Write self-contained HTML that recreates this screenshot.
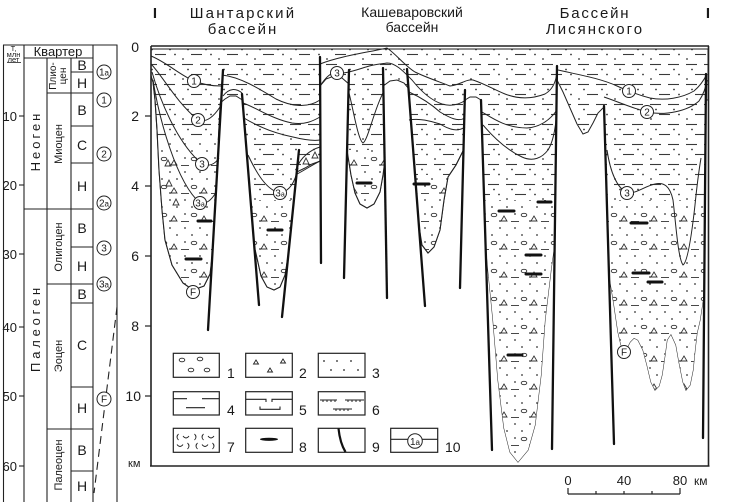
<!DOCTYPE html>
<html><head><meta charset="utf-8"><style>
html,body{margin:0;padding:0;background:#fff;}
svg{display:block;}
text{font-family:"Liberation Sans","DejaVu Sans",sans-serif;fill:#1a1a1a;}
</style></head><body>
<svg width="729" height="502" viewBox="0 0 729 502" xmlns="http://www.w3.org/2000/svg">
<defs>
<pattern id="pt" width="36" height="20" patternUnits="userSpaceOnUse">
  <g stroke="#3a3a3a" stroke-width="1.1">
   <line x1="2" y1="4.5" x2="13" y2="4.5"/>
   <line x1="20" y1="4.5" x2="31" y2="4.5"/>
   <line x1="11" y1="14.5" x2="22" y2="14.5"/>
  </g>
  <g fill="#333">
   <circle cx="8" cy="9.5" r="0.9"/>
   <circle cx="26" cy="9.5" r="0.9"/>
   <circle cx="31" cy="14.5" r="0.9"/>
   <circle cx="3" cy="19" r="0.9"/>
  </g>
</pattern>
<pattern id="pb" width="30" height="28" patternUnits="userSpaceOnUse">
  <g fill="#333">
   <circle cx="5" cy="4" r="0.9"/><circle cx="20" cy="4" r="0.9"/>
   <circle cx="12" cy="11" r="0.9"/><circle cx="27" cy="11" r="0.9"/>
   <circle cx="5" cy="18" r="0.9"/><circle cx="20" cy="25" r="0.9"/>
  </g>
  <g stroke="#333" stroke-width="0.9" fill="none">
   <ellipse cx="14" cy="19" rx="2.8" ry="1.7"/>
   <path d="M24,20 L27,25 L21,25 Z"/>
   <line x1="1" y1="25.5" x2="9" y2="25.5"/>
  </g>
</pattern>
<clipPath id="cp"><path id="Pshape" d="M151,49 L708,49 L708,100 L705.8,100 L704,290 L703,300 L700,320 L697,333 L695,350 L693,370 L690,385 L686,390 L683,382 L679,362 L676,345 L671,334 L667,340 L665,355 L662,375 L659,386 L655,390 L651,382 L647,365 L643,350 L638,340 L634,338 L630,342 L626,350 L621,345 L618,332 L614,305 L610,280 L604,107 L598,113 L593,123 L588,132 L583,134 L577,124 L570,108 L563,92 L557,80 L555,240 L551,270 L545,320 L541,375 L535,425 L528,450 L518,462 L510,452 L504,428 L498,380 L493,320 L488,270 L485.4,240 L481,100 L476,97 L470,97 L465,100 L463.5,150 L456,165 L448,177 L444,200 L440,230 L434,247 L428,253 L422,245 L418.8,225 L408.2,88 L404,83 L397,80 L390,81 L383.2,86 L385,160 L383,175 L380,192 L374,204 L367,208 L360,204 L355,193 L351,175 L347,150 L348.9,84 L342,78 L334,76 L326,79 L320,86 L320.5,161 L312,164 L305,168 L296.8,172 L288.3,255 L285,275 L280,287 L274,290 L267,287 L261,276 L257,258 L255.2,250 L242.4,100 L236,96 L230,96 L225,99 L220.2,103 L212,258 L210,274 L204,286 L193,290 L183,283 L172,265 L165,240 L162,210 L159,170 L157,130 L155,100 L153,82 L151,76 Z"/></clipPath>
</defs>

<!-- patterned region -->
<path d="M151,49 L708,49 L708,100 L705.8,100 L704,290 L703,300 L700,320 L697,333 L695,350 L693,370 L690,385 L686,390 L683,382 L679,362 L676,345 L671,334 L667,340 L665,355 L662,375 L659,386 L655,390 L651,382 L647,365 L643,350 L638,340 L634,338 L630,342 L626,350 L621,345 L618,332 L614,305 L610,280 L604,107 L598,113 L593,123 L588,132 L583,134 L577,124 L570,108 L563,92 L557,80 L555,240 L551,270 L545,320 L541,375 L535,425 L528,450 L518,462 L510,452 L504,428 L498,380 L493,320 L488,270 L485.4,240 L481,100 L476,97 L470,97 L465,100 L463.5,150 L456,165 L448,177 L444,200 L440,230 L434,247 L428,253 L422,245 L418.8,225 L408.2,88 L404,83 L397,80 L390,81 L383.2,86 L385,160 L383,175 L380,192 L374,204 L367,208 L360,204 L355,193 L351,175 L347,150 L348.9,84 L342,78 L334,76 L326,79 L320,86 L320.5,161 L312,164 L305,168 L296.8,172 L288.3,255 L285,275 L280,287 L274,290 L267,287 L261,276 L257,258 L255.2,250 L242.4,100 L236,96 L230,96 L225,99 L220.2,103 L212,258 L210,274 L204,286 L193,290 L183,283 L172,265 L165,240 L162,210 L159,170 L157,130 L155,100 L153,82 L151,76 Z" fill="url(#pt)" stroke="#222" stroke-width="1"/>

<g clip-path="url(#cp)">
  <g fill="#fff">
    <rect x="151" y="140" width="72" height="160"/>
    <rect x="243" y="200" width="57" height="100"/>
    <rect x="345" y="150" width="43" height="65"/>
    <rect x="408" y="175" width="58" height="85"/>
    <rect x="481" y="200" width="77" height="270"/>
    <rect x="604" y="200" width="104" height="200"/>
  </g>
  <g fill="url(#pb)">
    <rect x="151" y="140" width="72" height="160"/>
    <rect x="243" y="200" width="57" height="100"/>
    <rect x="345" y="150" width="43" height="65"/>
    <rect x="408" y="175" width="58" height="85"/>
    <rect x="481" y="200" width="77" height="270"/>
    <rect x="604" y="200" width="104" height="200"/>
  </g>
</g>
<path d="M151,76 L153,82 L155,100 L157,130 L159,170 L162,210 L165,240 L172,265 L183,283 L193,290 L204,286 L210,274 L212,258 M255.2,250 L257,258 L261,276 L267,287 L274,290 L280,287 L285,275 L288.3,255 M347,150 L351,175 L355,193 L360,204 L367,208 L374,204 L380,192 L383,175 L385,160 M418.8,225 L422,245 L428,253 L434,247 L440,230 L444,200 L448,177 L456,165 L463.5,150" fill="none" stroke="#222" stroke-width="1.1"/>

<!-- horizon curves -->
<g fill="none" stroke="#222" stroke-width="1">
  <path d="M151,56 C166,62 180,75 194,81 C204,85 213,86 221,86"/>
  <path d="M222,75 C240,77 258,88 276,99 C292,107 308,108 320,100"/>
  <path d="M151,64 C162,75 176,102 198,120 C207,123 214,116 220,107"/>
  <path d="M223,96 C229,88 236,88 242,93"/>
  <path d="M243,103 C257,108 272,119 292,123 C305,125 313,121 320,117"/>
  <path d="M152,72 C159,97 176,142 202,164 C210,167 215,164 219,158"/>
  <path d="M244,118 C257,126 273,133 293,137 C305,140 313,141 320,140"/>
  <path d="M153,80 C159,118 176,182 200,203 C207,204 211,200 215,194"/>
  <path d="M248,155 C256,172 266,190 280,193 C290,191 295,182 298,168"/>
  <path d="M297,168 C300,158 310,150 320,147 M297,174 C305,170 312,165 320,161"/>
  <path d="M320,64 C340,56 370,52 387,48 C396,54 405,66 415,72 C425,77 440,82 450,86 C460,85 466,79 473,80 C485,84 495,90 505,94 C518,99 532,99 545,94 C552,90 556,82 557,72"/>
  <path d="M320,86 C326,77 331,72 337,73 C346,74 356,70 366,67 C375,64 382,64 387,63 C396,63 404,72 412,80 C420,90 430,100 442,104 C452,107 460,104 466,100"/>
  <path d="M349,93 C353,108 358,140 363,143 C368,140 374,110 383,93"/>
  <path d="M409,120 C420,118 430,121 440,124 C450,130 458,132 465,127"/>
  <path d="M409,92 C420,97 430,103 440,112 C450,118 458,122 465,118"/>
  <path d="M482,112 C492,118 506,128 527,128 C540,127 550,120 557,110"/>
  <path d="M483,125 C494,138 507,150 522,157 C533,162 542,158 548,150 C553,142 555,130 556,120"/>
  <path d="M558,70 C575,74 600,78 617,86 C628,91 638,95 650,98 C665,101 682,98 694,91 C700,86 704,80 707,74"/>
  <path d="M604,97 C616,101 632,108 647,112 C665,116 688,111 699,101 C703,95 706,87 707,80"/>
  <path d="M607,150 C610,170 616,187 627,193 C636,194 645,186 655,184 C664,182 670,186 673,200 C676,225 678,258 683,265 C688,262 692,232 695,205 C697,185 699,170 701,158"/>
</g>
<g fill="none" stroke="#333" stroke-width="0.9">
  <path d="M303,164 L306,158 L309,164 Z M312,158 L315,152 L318,158 Z"/>
  <path d="M165,166 L168,160 L171,166 Z M166,186 L169,180 L172,186 Z M173,205 L176,199 L179,205 Z"/>
</g>

<!-- faults -->
<g stroke="#111" stroke-width="2.3" stroke-linecap="round">
  <line x1="223" y1="70" x2="208" y2="330"/>
  <line x1="242" y1="94" x2="259" y2="305"/>
  <line x1="299" y1="150" x2="282" y2="317"/>
  <line x1="320" y1="57" x2="321" y2="263"/>
  <line x1="349" y1="70" x2="344" y2="278"/>
  <line x1="383" y1="68" x2="387" y2="298"/>
  <line x1="407" y1="69" x2="425" y2="306"/>
  <line x1="465" y1="90" x2="460" y2="288"/>
  <line x1="481" y1="100" x2="492" y2="450"/>
  <line x1="557" y1="66" x2="552" y2="449"/>
  <line x1="604" y1="106" x2="614" y2="444"/>
  <line x1="706" y1="74" x2="703" y2="438"/>
</g>

<!-- lenses -->
<g stroke="#111" stroke-width="3" stroke-linecap="round">
  <line x1="198" y1="221" x2="211" y2="221"/>
  <line x1="186" y1="259" x2="201" y2="259"/>
  <line x1="268" y1="230" x2="282" y2="230"/>
  <line x1="357" y1="183" x2="371" y2="183"/>
  <line x1="414" y1="184" x2="429" y2="184"/>
  <line x1="538" y1="202" x2="551" y2="202"/>
  <line x1="499" y1="211" x2="514" y2="211"/>
  <line x1="526" y1="255" x2="541" y2="255"/>
  <line x1="526" y1="274" x2="541" y2="274"/>
  <line x1="508" y1="355" x2="522" y2="355"/>
  <line x1="631" y1="223" x2="647" y2="223"/>
  <line x1="633" y1="273" x2="649" y2="273"/>
  <line x1="648" y1="282" x2="662" y2="282"/>
</g>

<!-- circles in chart -->
<g font-size="10" text-anchor="middle">
  <g fill="#fff" stroke="#222" stroke-width="1">
    <circle cx="194" cy="81" r="6.5"/><circle cx="198" cy="120" r="6.5"/>
    <circle cx="202" cy="164" r="6.5"/><circle cx="200" cy="203" r="6.5"/>
    <circle cx="193" cy="292" r="6.5"/><circle cx="280" cy="193" r="6.5"/>
    <circle cx="337" cy="73" r="6.5"/><circle cx="629" cy="91" r="6.5"/>
    <circle cx="647" cy="112" r="6.5"/><circle cx="627" cy="193" r="6.5"/>
    <circle cx="624" cy="352" r="6.5"/>
  </g>
  <text x="194" y="84.5">1</text><text x="198" y="123.5">2</text>
  <text x="202" y="167.5">3</text><text x="200" y="206.5">3<tspan font-size="7">a</tspan></text>
  <text x="193" y="295.5">F</text><text x="280" y="196.5">3<tspan font-size="7">a</tspan></text>
  <text x="337" y="76.5">3</text><text x="629" y="94.5">1</text>
  <text x="647" y="115.5">2</text><text x="627" y="196.5">3</text>
  <text x="624" y="355.5">F</text>
</g>

<!-- frame & axis -->
<g stroke="#222" fill="none">
  <line x1="151" y1="46" x2="709" y2="46" stroke-width="1.4"/>
  <line x1="151" y1="49" x2="709" y2="49" stroke-width="1"/>
  <line x1="151" y1="46" x2="151" y2="466.5" stroke-width="1.6"/>
  <line x1="708.5" y1="46" x2="708.5" y2="466.5" stroke-width="1.6"/>
  <line x1="150" y1="466" x2="709.5" y2="466" stroke-width="1.6"/>
  <line x1="145" y1="116" x2="151" y2="116" stroke-width="1.2"/>
  <line x1="145" y1="186" x2="151" y2="186" stroke-width="1.2"/>
  <line x1="145" y1="256" x2="151" y2="256" stroke-width="1.2"/>
  <line x1="145" y1="326" x2="151" y2="326" stroke-width="1.2"/>
  <line x1="145" y1="396" x2="151" y2="396" stroke-width="1.2"/>
</g>
<g font-size="14" text-anchor="end">
  <text x="139" y="52">0</text><text x="139" y="121">2</text><text x="139" y="191">4</text>
  <text x="139" y="261">6</text><text x="139" y="331">8</text><text x="141" y="401">10</text>
</g>
<text x="128" y="467" font-size="11">км</text>

<!-- titles -->
<text x="155" y="18" font-family="'Liberation Serif',serif" font-weight="bold" font-size="15" text-anchor="middle">I</text>
<text x="708" y="18" font-family="'Liberation Serif',serif" font-weight="bold" font-size="15" text-anchor="middle">I</text>
<text x="243" y="18" font-size="15" letter-spacing="2.2" text-anchor="middle">Шантарский</text>
<text x="243" y="34" font-size="15" letter-spacing="2" text-anchor="middle">бассейн</text>
<text x="412" y="17" font-size="14" text-anchor="middle">Кашеваровский</text>
<text x="412" y="32" font-size="14" text-anchor="middle">бассейн</text>
<text x="595" y="18" font-size="15" letter-spacing="1.8" text-anchor="middle">Бассейн</text>
<text x="595" y="34" font-size="15" letter-spacing="2" text-anchor="middle">Лисянского</text>

<!-- legend -->
<g fill="#fff" stroke="#222" stroke-width="1.2">
  <rect x="173.3" y="353.3" width="46" height="24"/>
  <rect x="245.7" y="353.3" width="46.6" height="24"/>
  <rect x="318.3" y="353.3" width="46.7" height="24"/>
  <rect x="173.3" y="391.7" width="46" height="23.3"/>
  <rect x="245.7" y="391.7" width="46.6" height="23.3"/>
  <rect x="318.3" y="391.7" width="46.7" height="23.3"/>
  <rect x="173.3" y="428.3" width="46" height="24"/>
  <rect x="245.7" y="428.3" width="46.6" height="24"/>
  <rect x="318.3" y="428.3" width="46.7" height="24"/>
  <rect x="390.7" y="428.3" width="47" height="24"/>
</g>
<g fill="none" stroke="#222" stroke-width="0.9">
  <ellipse cx="182" cy="360" rx="2.8" ry="1.8"/><ellipse cx="200" cy="359" rx="2.8" ry="1.8"/>
  <ellipse cx="191" cy="370" rx="2.8" ry="1.8"/><ellipse cx="207" cy="370" rx="2.8" ry="1.8"/>
  <path d="M256,360 L258.5,364 L253.5,364 Z M283,359 L285.5,363 L280.5,363 Z M270,368 L272.5,372 L267.5,372 Z"/>
  <path d="M173,398.7 L187,398.7 M202,398.7 L219,398.7 M186,407.7 L205,407.7" stroke-width="1.1"/>
  <path d="M246,399.3 L266,399.3 L266,402 M272,402 L272,399.3 L292,399.3 M260,406.5 L260,409.3 L280,409.3 L280,406.5" stroke-width="1.1"/>
  <path d="M320,400 L337,400 M323,400 v2 M327,400 v2 M331,400 v2 M335,400 v2 M345,400 L364,400 M348,400 v2 M352,400 v2 M356,400 v2 M360,400 v2 M333,409 L352,409 M336,409 v2 M340,409 v2 M344,409 v2 M348,409 v2" stroke-width="1"/>
  <path d="M178.5,434 Q175.5,437 178.5,440 M183,436 Q186,440 189,436 M194.5,434 Q197.5,437 194.5,440 M203.5,434 Q200.5,437 203.5,440 M208,436 Q211,440 214,436 M177,444.5 Q180,448.5 183,444.5 M187.5,443 Q190.5,446 187.5,449 M197.5,443 Q194.5,446 197.5,449 M202,444.5 Q205,448.5 208,444.5 M212.5,443 Q215.5,446 212.5,449"/>
  <path d="M338.5,428.5 Q340,443 345.5,452" stroke="#111" stroke-width="2.2"/>
  <line x1="390.7" y1="439.3" x2="437.7" y2="439.3" stroke-width="1.1"/>
</g>
<ellipse cx="269" cy="439.3" rx="9" ry="1.6" fill="#111"/>
<circle cx="415" cy="441" r="7.3" fill="#fff" stroke="#222" stroke-width="1"/>
<text x="415" y="445" font-size="10" text-anchor="middle">1<tspan font-size="8">a</tspan></text>
<g fill="#222">
  <circle cx="324" cy="361" r="0.9"/><circle cx="337" cy="361" r="0.9"/><circle cx="351" cy="361" r="0.9"/>
  <circle cx="331" cy="370" r="0.9"/><circle cx="344" cy="370" r="0.9"/><circle cx="358" cy="370" r="0.9"/>
</g>
<g font-size="14">
  <text x="227" y="378">1</text><text x="299" y="378">2</text><text x="372" y="378">3</text>
  <text x="227" y="415">4</text><text x="299" y="415">5</text><text x="372" y="415">6</text>
  <text x="227" y="452">7</text><text x="299" y="452">8</text><text x="372" y="452">9</text>
  <text x="445" y="452">10</text>
</g>

<!-- scale bar -->
<g stroke="#222" stroke-width="1.2" fill="none">
  <line x1="568" y1="494" x2="680" y2="494"/>
  <line x1="568" y1="488" x2="568" y2="494"/>
  <line x1="596" y1="491" x2="596" y2="494"/>
  <line x1="624" y1="491" x2="624" y2="494"/>
  <line x1="652" y1="491" x2="652" y2="494"/>
  <line x1="680" y1="488" x2="680" y2="494"/>
</g>
<g font-size="13" text-anchor="middle">
  <text x="568" y="485">0</text><text x="624" y="485">40</text><text x="680" y="485">80</text>
</g>
<text x="694" y="485" font-size="12">км</text>

<!-- left time panel -->
<g stroke="#222" stroke-width="1.1" fill="none">
  <line x1="3.5" y1="45" x2="3.5" y2="502"/>
  <line x1="24" y1="45" x2="24" y2="502"/>
  <line x1="47" y1="58" x2="47" y2="502"/>
  <line x1="71" y1="58" x2="71" y2="502"/>
  <line x1="93" y1="45" x2="93" y2="502"/>
  <line x1="117" y1="45" x2="117" y2="502"/>
  <line x1="3" y1="45" x2="117.5" y2="45"/>
  <line x1="24" y1="58" x2="93" y2="58"/>
  <line x1="24" y1="209" x2="93" y2="209"/>
  <line x1="47" y1="93" x2="93" y2="93"/>
  <line x1="47" y1="284" x2="93" y2="284"/>
  <line x1="47" y1="429" x2="93" y2="429"/>
  <line x1="71" y1="72" x2="93" y2="72"/>
  <line x1="71" y1="126" x2="93" y2="126"/>
  <line x1="71" y1="163" x2="93" y2="163"/>
  <line x1="71" y1="247" x2="93" y2="247"/>
  <line x1="71" y1="303" x2="93" y2="303"/>
  <line x1="71" y1="387" x2="93" y2="387"/>
  <line x1="71" y1="471" x2="93" y2="471"/>
  <line x1="7" y1="62.5" x2="21" y2="62.5" stroke-width="0.8"/>
  <line x1="19" y1="116" x2="24" y2="116"/>
  <line x1="19" y1="185" x2="24" y2="185"/>
  <line x1="19" y1="254" x2="24" y2="254"/>
  <line x1="19" y1="327" x2="24" y2="327"/>
  <line x1="19" y1="396" x2="24" y2="396"/>
  <line x1="19" y1="466" x2="24" y2="466"/>
  <line x1="117" y1="307" x2="94" y2="493" stroke-dasharray="8 5"/>
</g>
<g font-size="7.5" text-anchor="middle">
  <text x="13.5" y="51">Т,</text><text x="13.5" y="57">млн</text><text x="13.5" y="62">лет</text>
</g>
<text x="58" y="56" font-size="13" text-anchor="middle">Квартер</text>
<g font-size="13" text-anchor="end">
  <text x="17" y="121">10</text><text x="17" y="190">20</text><text x="17" y="259">30</text>
  <text x="17" y="332">40</text><text x="17" y="401">50</text><text x="17" y="471">60</text>
</g>
<text transform="translate(40,141) rotate(-90)" font-size="13" letter-spacing="3" text-anchor="middle">Неоген</text>
<text transform="translate(40,328) rotate(-90)" font-size="13" letter-spacing="3.8" text-anchor="middle">Палеоген</text>
<text transform="translate(56,76) rotate(-90)" font-size="10" text-anchor="middle">Плио-</text>
<text transform="translate(66,76) rotate(-90)" font-size="10" text-anchor="middle">цен</text>
<g font-size="11" text-anchor="middle">
  <text transform="translate(62,144) rotate(-90)">Миоцен</text>
  <text transform="translate(62,247) rotate(-90)">Олигоцен</text>
  <text transform="translate(62,356) rotate(-90)">Эоцен</text>
  <text transform="translate(62,465) rotate(-90)">Палеоцен</text>
</g>
<g font-size="14" text-anchor="middle">
  <text x="82" y="70">В</text><text x="82" y="88">Н</text><text x="82" y="115">В</text>
  <text x="82" y="150">С</text><text x="82" y="191">Н</text><text x="82" y="233">В</text>
  <text x="82" y="271">Н</text><text x="82" y="299">В</text><text x="82" y="350">С</text>
  <text x="82" y="413">Н</text><text x="82" y="455">В</text><text x="82" y="491">Н</text>
</g>
<g fill="#fff" stroke="#222" stroke-width="1">
  <circle cx="104" cy="72" r="7"/><circle cx="104" cy="100" r="7"/>
  <circle cx="104" cy="154" r="7"/><circle cx="104" cy="203" r="7"/>
  <circle cx="104" cy="248" r="7"/><circle cx="104" cy="284" r="7"/>
  <circle cx="104" cy="399" r="7"/>
</g>
<g font-size="10" text-anchor="middle">
  <text x="104" y="75.5">1<tspan font-size="8">a</tspan></text>
  <text x="104" y="103.5">1</text>
  <text x="104" y="157.5">2</text>
  <text x="104" y="206.5">2<tspan font-size="8">a</tspan></text>
  <text x="104" y="251.5">3</text>
  <text x="104" y="287.5">3<tspan font-size="8">a</tspan></text>
  <text x="104" y="402.5">F</text>
</g>
</svg>
</body></html>
